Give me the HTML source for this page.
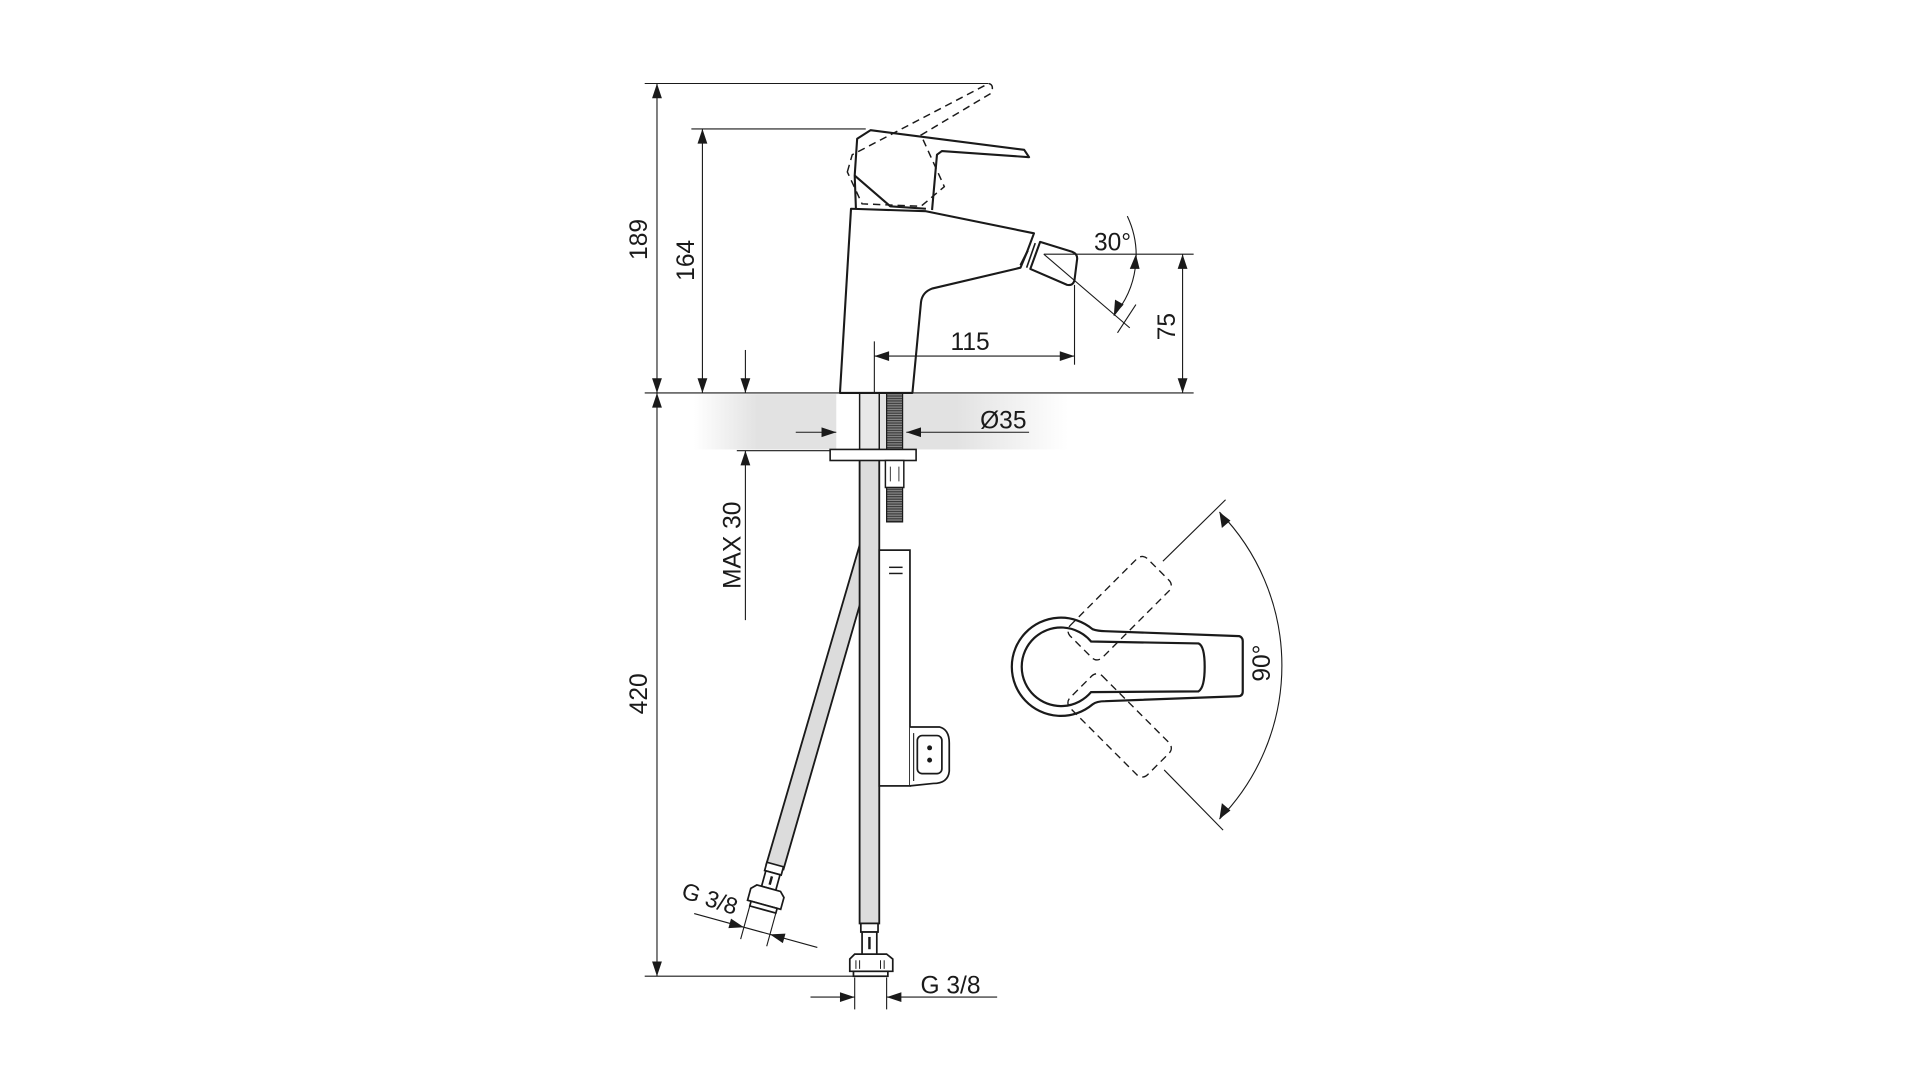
<!DOCTYPE html>
<html><head><meta charset="utf-8"><style>
html,body{margin:0;padding:0;background:#fff;}
svg{display:block;}
text{font-family:"Liberation Sans",sans-serif;fill:#1a1a1a;}
</style></head><body>
<svg width="1920" height="1080" viewBox="0 0 1563.5 879.5" preserveAspectRatio="none" xmlns="http://www.w3.org/2000/svg">
<defs>
<linearGradient id="band" x1="0" x2="1" y1="0" y2="0">
<stop offset="0" stop-color="#e2e2e2" stop-opacity="0"/>
<stop offset="0.17" stop-color="#e2e2e2"/>
<stop offset="0.7" stop-color="#e2e2e2"/>
<stop offset="1" stop-color="#e2e2e2" stop-opacity="0"/>
</linearGradient>
<pattern id="thr" width="4" height="2" patternUnits="userSpaceOnUse">
<rect width="4" height="2" fill="#8a8a8a"/><rect width="4" height="1" fill="#3a3a3a"/>
</pattern>
</defs>

<!-- grey band -->
<rect x="565" y="321" width="305" height="45" fill="url(#band)"/>
<rect x="681" y="321" width="19" height="45" fill="#fff"/>

<!-- hose -->
<path d="M700,444 L713,448 L638,708 L624,704 Z" fill="#dcdcdc" stroke="#1a1a1a" stroke-width="1.5"/>

<!-- pipe -->
<rect x="700" y="366" width="16" height="386" fill="#dcdcdc" stroke="#1a1a1a" stroke-width="1.5"/>
<rect x="700" y="320" width="16" height="46" fill="#e8e8e8" stroke="#1a1a1a" stroke-width="1.2"/>
<!-- bottom fitting -->
<g stroke="#1a1a1a" stroke-width="1.4" fill="#fff">
<rect x="701" y="752" width="14" height="7"/>
<rect x="702" y="759" width="12" height="19"/>
<line x1="708" y1="763" x2="708" y2="773" stroke-width="2"/>
<path d="M692,781 L696,777 H722 L727,781 V791 H692 Z"/>
<line x1="697" y1="782" x2="697" y2="789" stroke-width="0.8"/><line x1="700" y1="782" x2="700" y2="789" stroke-width="0.8"/>
<line x1="717" y1="782" x2="717" y2="789" stroke-width="0.8"/><line x1="720" y1="782" x2="720" y2="789" stroke-width="0.8"/>
<rect x="695" y="791" width="28" height="4"/>
</g>

<!-- left fitting + dim -->
<g transform="rotate(15.4 631 705)" stroke="#1a1a1a" stroke-width="1.4" fill="#fff">
<rect x="624" y="704" width="14" height="7"/>
<rect x="625" y="711" width="12" height="13"/>
<line x1="631" y1="714" x2="631" y2="721" stroke-width="2"/>
<path d="M617,728 L621,724 H641 L645,728 V738 H617 Z"/>
<rect x="620" y="738" width="22" height="4"/>
<g stroke-width="0.9" fill="none">
<line x1="620" y1="742" x2="620" y2="770"/>
<line x1="642" y1="742" x2="642" y2="770"/>
<line x1="578" y1="760" x2="682" y2="760"/>
</g>
<path d="M620,760 l-12,-4 v8z" fill="#1a1a1a" stroke="none"/>
<path d="M642,760 l12,-4 v8z" fill="#1a1a1a" stroke="none"/>
</g>
<text x="576" y="738" font-size="19" transform="rotate(18 576 738)" text-anchor="middle">G 3/8</text>

<!-- bracket -->
<g stroke="#1a1a1a" stroke-width="1.4" fill="#fff">
<rect x="716" y="448" width="25" height="192"/>
<path d="M741,592 H765 Q773,594 773,605 V628 Q772,638 760,638 L741,640"/>
<rect x="747" y="599" width="20" height="31" rx="4"/>
<line x1="744" y1="597" x2="744" y2="636" stroke-width="0.9"/>
</g>
<g stroke="#1a1a1a" stroke-width="1.2"><line x1="724" y1="462" x2="735" y2="462"/><line x1="724" y1="467" x2="735" y2="467"/></g>
<circle cx="757" cy="609" r="2" fill="#1a1a1a"/><circle cx="757" cy="619" r="2" fill="#1a1a1a"/>

<!-- threaded rod -->
<rect x="722" y="320" width="13" height="46" fill="url(#thr)" stroke="#1a1a1a" stroke-width="1"/>
<rect x="676" y="366" width="70" height="9" fill="#fff" stroke="#1a1a1a" stroke-width="1.3"/>
<rect x="721" y="375" width="15" height="22" fill="#fff" stroke="#1a1a1a" stroke-width="1.2"/>
<line x1="725" y1="380" x2="725" y2="392" stroke="#1a1a1a" stroke-width="0.7"/>
<line x1="732" y1="380" x2="732" y2="392" stroke="#1a1a1a" stroke-width="0.7"/>
<rect x="722" y="397" width="13" height="28" fill="url(#thr)" stroke="#1a1a1a" stroke-width="1"/>

<!-- faucet body -->
<g stroke="#1a1a1a" stroke-width="1.7" fill="none" stroke-linejoin="round">
<path d="M684,320 L693,170 L754,172 L842,190 L836,206 L831,218 L759,235 Q751,238 750,246 L743,320 Z" fill="#fff"/>
<line x1="837" y1="204" x2="831" y2="216"/>
<path d="M697,170 L696,143 L698,113 L709,106 L834,122 L838,128 L767,123 L763,126 L759,171"/>
<path d="M696,143 L725,168 L754,170"/>
<path d="M847,197 L873,205 Q878,207 877,212 L875,228 Q874,233 869,232 L839,219 Z" fill="#fff"/>
<line x1="843" y1="198" x2="836" y2="218" stroke-width="1.3"/>
</g>
<path d="M690,140 L694,126 L805,68 Q810,69 807,76 L750,110 L769,152 L750,168 L702,166 Z" fill="none" stroke="#1a1a1a" stroke-width="1.2" stroke-dasharray="6,4"/>

<!-- dimensions (on top) -->
<g stroke="#1a1a1a" fill="none" stroke-width="0.9">
<line x1="525" y1="68" x2="805" y2="68"/>
<line x1="535" y1="68" x2="535" y2="320"/>
<line x1="525" y1="320" x2="972" y2="320"/>
<line x1="563" y1="105" x2="705" y2="105"/>
<line x1="572" y1="105" x2="572" y2="320"/>
<line x1="535" y1="320" x2="535" y2="795"/>
<line x1="525" y1="795" x2="695" y2="795"/>
<line x1="607" y1="285" x2="607" y2="320"/>
<line x1="607" y1="367" x2="607" y2="505"/>
<line x1="600" y1="367" x2="676" y2="367"/>
<line x1="850" y1="207" x2="972" y2="207"/>
<line x1="963" y1="207" x2="963" y2="320"/>
<line x1="712" y1="290" x2="875" y2="290"/>
<line x1="712" y1="278" x2="712" y2="320"/>
<line x1="875" y1="232" x2="875" y2="297"/>
<line x1="648" y1="352" x2="681" y2="352"/>
<line x1="738" y1="352" x2="838" y2="352"/>
<line x1="850" y1="207" x2="920" y2="267"/>
<line x1="910" y1="271" x2="925" y2="248"/>
<path d="M918,176 A75,75 0 0,1 907,257"/>
<line x1="696" y1="796" x2="696" y2="822"/>
<line x1="722" y1="796" x2="722" y2="822"/>
<line x1="660" y1="812" x2="696" y2="812"/>
<line x1="722" y1="812" x2="812" y2="812"/>
</g>
<g fill="#1a1a1a">
<path d="M535,68 l-4,12 h8z"/><path d="M535,320 l-4,-12 h8z"/>
<path d="M535,320 l-4,12 h8z"/><path d="M535,795 l-4,-12 h8z"/>
<path d="M572,105 l-4,12 h8z"/><path d="M572,320 l-4,-12 h8z"/>
<path d="M607,320 l-4,-12 h8z"/><path d="M607,367 l-4,12 h8z"/>
<path d="M963,207 l-4,12 h8z"/><path d="M963,320 l-4,-12 h8z"/>
<path d="M712,290 l12,-4 v8z"/><path d="M875,290 l-12,-4 v8z"/>
<path d="M681,352 l-12,-4 v8z"/><path d="M738,352 l12,-4 v8z"/>
<path d="M696,812 l-12,-4 v8z"/><path d="M722,812 l12,-4 v8z"/>
<path d="M925,207 l-5,12 l8,0z"/>
<path d="M907,257 l1,-13 l7,4z"/>
</g>

<!-- top view -->
<g stroke="#1a1a1a" fill="none">
<path d="M889.7,512.4 Q894,514 900,514 L1009,518 Q1012,519 1012,522 L1012,563 Q1012,567 1008,567 L900,571 Q893,571 889.7,573.6 A40,40 0 1,1 889.7,512.4 Z" stroke-width="1.8" fill="#fff"/>
<path d="M888.5,522.4 L976,524 Q981,526 981,543 Q981,560 976,563 L888.5,563.6 A32,32 0 1,1 888.5,522.4 Z" stroke-width="1.8"/>
<g stroke-width="1.1" stroke-dasharray="6,4">
<rect x="887" y="524.5" width="89" height="37" rx="6" transform="rotate(-45 864 543)"/>
<rect x="887" y="524.5" width="89" height="37" rx="6" transform="rotate(45 864 543)"/>
</g>
<g stroke-width="0.9">
<line x1="947" y1="457" x2="998" y2="407"/>
<line x1="948" y1="627" x2="996" y2="676"/>
<path d="M993,417 A179,179 0 0,1 993,667"/>
</g>
</g>
<path d="M993,417 l2,13 l7,-6z" fill="#1a1a1a"/>
<path d="M993,667 l2,-13 l7,6z" fill="#1a1a1a"/>

<!-- labels -->
<g font-size="20">
<text x="527" y="195" transform="rotate(-90 527 195)" text-anchor="middle">189</text>
<text x="565" y="212" transform="rotate(-90 565 212)" text-anchor="middle">164</text>
<text x="527" y="565" transform="rotate(-90 527 565)" text-anchor="middle">420</text>
<text x="603" y="444" transform="rotate(-90 603 444)" text-anchor="middle">MAX 30</text>
<text x="957" y="266" transform="rotate(-90 957 266)" text-anchor="middle">75</text>
<text x="1034" y="540" transform="rotate(-90 1034 540)" text-anchor="middle">90°</text>
<text x="790" y="285" text-anchor="middle">115</text>
<text x="906" y="204" text-anchor="middle">30°</text>
<text x="817" y="349" text-anchor="middle">Ø35</text>
<text x="774" y="809" text-anchor="middle">G 3/8</text>
</g>
</svg>
</body></html>
